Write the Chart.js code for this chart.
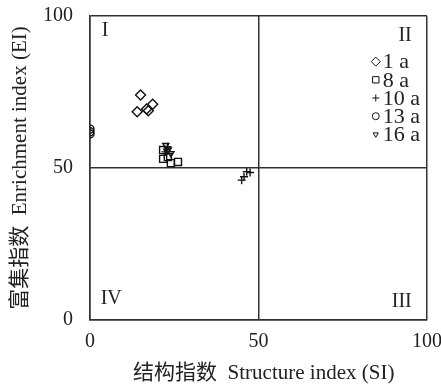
<!DOCTYPE html>
<html lang="en">
<head>
  <meta charset="UTF-8">
  <title>EI SI</title>
  <script src="https://cdn.jsdelivr.net/npm/chart.js"></script>
  <style>
    body{ margin: 0; background: #fff; }
    #wrap{ width: 441px; height: 386px; }
  </style>
</head>
<body>
  <div id="wrap"><canvas id="eiChart"></canvas></div>
<script>
  // series names
  const seriesNames = ['1 a', '8 a', '10 a', '13 a', '16 a'];
  // structure index (x) and enrichment index (y) for each year
  const si1 = [15.0, 14.0, 16.8, 18.6, 17.3];
  const ei1 = [74.0, 68.5, 69.4, 71.0, 68.8];
  const si8 = [21.7, 21.7, 24.0, 26.1, 23.1];
  const ei8 = [55.9, 53.0, 51.6, 52.0, 53.6];
  const si10 = [46.5, 47.5, 45.0, 45.7, 23.0, 22.4];
  const ei10 = [48.8, 48.5, 46.0, 47.1, 57.0, 55.3];
  const si13 = [0, 0, 0];
  const ei13 = [62.8, 61.9, 61.2];
  const si16 = [22.5, 23.2, 24.0, 22.8];
  const ei16 = [57.5, 56.0, 54.8, 55.6];
  const tickVals = [0, 50, 100];
  const quadrants = [['I', 4.5, 95], ['II', 93.5, 93.5], ['III', 92.5, 6], ['IV', 6.3, 7]];

  const font = "'Liberation Serif', 'Times New Roman', 'Noto Sans CJK SC', serif";
  const styles = ['rectRot', 'rect', 'cross', 'circle', 'triangle'];
  const radii = [5, 5, 4, 4, 3.5];
  const rots = [0, 0, 0, 0, 180];

  function pts(xs, ys){ return xs.map((x, i) => ({x: x, y: ys[i]})); }
  const allX = [si1, si8, si10, si13, si16];
  const allY = [ei1, ei8, ei10, ei13, ei16];

  const datasets = seriesNames.map((name, i) => ({
    label: name,
    data: pts(allX[i], allY[i]),
    pointStyle: styles[i],
    pointRadius: radii[i],
    pointRotation: rots[i],
    borderColor: '#111',
    backgroundColor: 'rgba(0,0,0,0)',
    pointBorderWidth: 1.4
  }));

  // roman numerals and legend drawn inside the plot
  const extras = {
    id: 'extras',
    afterDatasetsDraw(chart){
      const ctx = chart.ctx;
      const xs = chart.scales.x, ys = chart.scales.y;
      ctx.save();
      ctx.font = '20px ' + font;
      ctx.textAlign = 'center';
      ctx.textBaseline = 'middle';
      ctx.fillStyle = '#222';
      quadrants.forEach(q => {
        ctx.fillText(q[0], xs.getPixelForValue(q[1]), ys.getPixelForValue(q[2]));
      });
      // legend
      const lx = xs.getPixelForValue(84.8);
      let ly = ys.getPixelForValue(85);
      ctx.textAlign = 'left';
      ctx.font = '22px ' + font;
      seriesNames.forEach((name, i) => {
        ctx.fillStyle = 'rgba(0,0,0,0)';
        ctx.strokeStyle = '#111';
        Chart.helpers.drawPoint(ctx, {
          pointStyle: styles[i], radius: radii[i] - 0.5, rotation: rots[i], borderWidth: 1.4
        }, lx, ly);
        ctx.fillStyle = '#222';
        ctx.fillText(name, lx + 7, ly + 1);
        ly += 18.2;
      });
      ctx.restore();
    }
  };

  new Chart(document.getElementById('eiChart'), {
    type: 'scatter',
    data: { datasets: datasets },
    plugins: [extras],
    options: {
      responsive: true,
      maintainAspectRatio: false,
      animation: false,
      layout: { padding: { left: 0, top: 16, right: 14, bottom: 0 } },
      plugins: { legend: { display: false }, tooltip: { enabled: false } },
      scales: {
        x: {
          min: 0, max: 100,
          afterBuildTicks: s => { s.ticks = tickVals.map(v => ({value: v})); },
          afterFit: s => { s.height = 66; s.paddingLeft = 0; s.paddingRight = 0; },
          grid: { color: '#333', lineWidth: 1.5, drawTicks: false },
          border: { color: '#333', width: 1.5 },
          ticks: { color: '#222', padding: 10, maxRotation: 0, font: { family: font, size: 20 } },
          title: {
            display: true, text: '\u2002结构指数  Structure index (SI)', color: '#222',
            padding: { top: 2, bottom: 0 }, font: { family: font, size: 21 }
          }
        },
        y: {
          min: 0, max: 100,
          afterBuildTicks: s => { s.ticks = tickVals.map(v => ({value: v})); },
          afterFit: s => { s.width = 90; s.paddingTop = 0; s.paddingBottom = 0; },
          grid: { color: '#333', lineWidth: 1.5, drawTicks: false },
          border: { color: '#333', width: 1.5 },
          ticks: { color: '#222', padding: 17, font: { family: font, size: 20 } },
          title: {
            display: true, text: '富集指数  Enrichment index (EI)', color: '#222',
            padding: { top: 8, bottom: 0 }, font: { family: font, size: 21 }
          }
        }
      }
    }
  });
</script>
</body>
</html>
